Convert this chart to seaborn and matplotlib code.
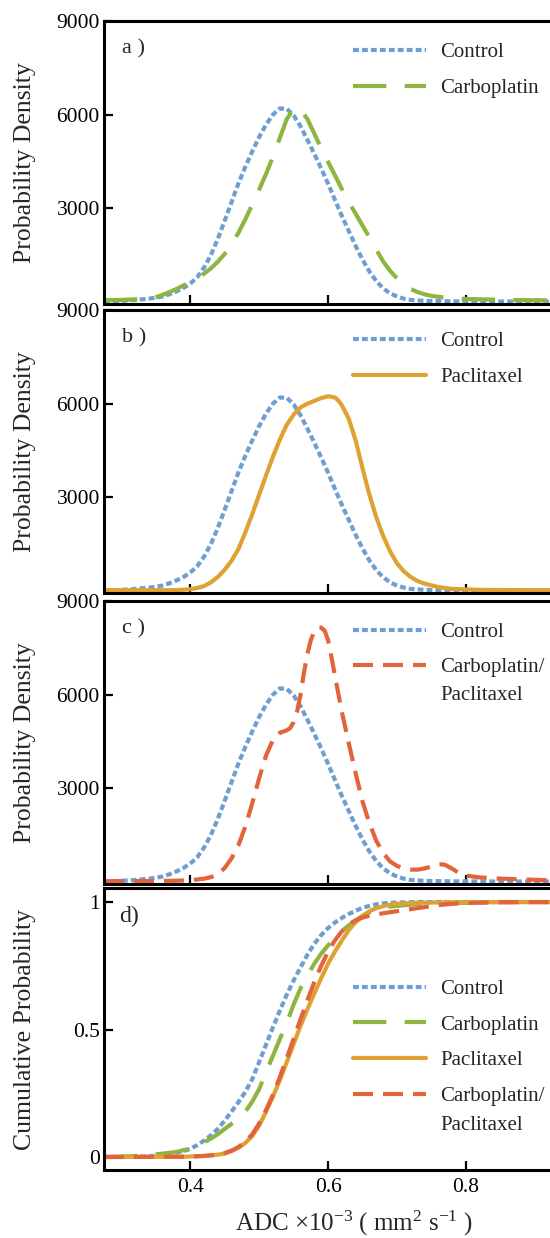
import matplotlib
matplotlib.use("Agg")
import matplotlib.pyplot as plt
import seaborn as sns

# ADC values (x1e-3 mm^2/s) and probability densities
control_x = [0.275, 0.30, 0.32, 0.34, 0.35, 0.36, 0.37, 0.38, 0.39, 0.40, 0.41, 0.42, 0.43, 0.44,
             0.45, 0.46, 0.47, 0.48, 0.49, 0.50, 0.51, 0.52, 0.53, 0.54, 0.55, 0.56, 0.57, 0.58,
             0.59, 0.60, 0.61, 0.62, 0.63, 0.64, 0.65, 0.66, 0.67, 0.68, 0.69, 0.70, 0.71, 0.72,
             0.74, 0.78, 0.85, 1.0]
control_pdf = [20, 40, 70, 110, 140, 180, 250, 340, 450, 590, 790, 1100, 1500, 2020,
               2600, 3200, 3800, 4330, 4820, 5280, 5680, 6000, 6200, 6190, 5980, 5630, 5200, 4750,
               4280, 3790, 3270, 2760, 2280, 1800, 1360, 980, 670, 440, 280, 180, 110, 70,
               40, 25, 20, 20]

carbo_x = [0.275, 0.30, 0.32, 0.34, 0.35, 0.36, 0.37, 0.38, 0.39, 0.40, 0.41, 0.42, 0.43, 0.44,
           0.45, 0.46, 0.47, 0.48, 0.49, 0.50, 0.51, 0.52, 0.53, 0.54, 0.55, 0.555, 0.56, 0.57,
           0.58, 0.59, 0.60, 0.61, 0.62, 0.63, 0.64, 0.65, 0.66, 0.67, 0.68, 0.69, 0.70, 0.71,
           0.72, 0.73, 0.74, 0.75, 0.76, 0.78, 0.80, 0.85, 0.90, 1.0]
carbo_pdf = [60, 70, 90, 120, 160, 230, 320, 420, 530, 640, 770, 910, 1080, 1290,
             1540, 1850, 2220, 2650, 3120, 3600, 4100, 4650, 5250, 5850, 6200, 6230, 6170, 5860,
             5400, 4920, 4490, 4060, 3620, 3210, 2830, 2450, 2070, 1680, 1300, 1000, 760, 560,
             420, 320, 250, 200, 170, 125, 100, 75, 60, 50]

pacli_x = [0.275, 0.38, 0.40, 0.41, 0.42, 0.43, 0.44, 0.45, 0.46, 0.47, 0.48, 0.49, 0.50, 0.51,
           0.52, 0.53, 0.54, 0.55, 0.56, 0.57, 0.58, 0.59, 0.60, 0.61, 0.615, 0.62, 0.63, 0.64,
           0.65, 0.66, 0.67, 0.68, 0.69, 0.70, 0.71, 0.72, 0.73, 0.74, 0.76, 0.78, 0.82, 0.90, 1.0]
pacli_pdf = [30, 30, 60, 100, 160, 280, 450, 680, 970, 1350, 1880, 2460, 3080, 3700,
             4300, 4850, 5320, 5650, 5880, 6000, 6090, 6180, 6240, 6200, 6100, 5950, 5520, 4820,
             3930, 3080, 2360, 1760, 1270, 890, 630, 450, 320, 240, 130, 70, 40, 30, 30]

combo_x = [0.275, 0.34, 0.38, 0.40, 0.42, 0.43, 0.44, 0.45, 0.46, 0.47, 0.48, 0.49, 0.50, 0.51,
           0.52, 0.53, 0.54, 0.545, 0.55, 0.555, 0.56, 0.565, 0.57, 0.575, 0.58, 0.585, 0.59,
           0.595, 0.60, 0.605, 0.61, 0.62, 0.63, 0.64, 0.65, 0.66, 0.67, 0.68, 0.69, 0.70, 0.71,
           0.72, 0.73, 0.74, 0.75, 0.76, 0.765, 0.77, 0.78, 0.79, 0.80, 0.82, 0.84, 0.88, 0.92, 1.0]
combo_pdf = [30, 35, 45, 60, 110, 160, 250, 450, 760, 1180, 1780, 2520, 3320, 4050,
             4550, 4780, 4860, 4930, 5120, 5450, 6000, 6700, 7300, 7750, 8030, 8150, 8150,
             8050, 7750, 7200, 6600, 5450, 4450, 3480, 2580, 1880, 1320, 930, 660, 520, 440,
             400, 400, 440, 500, 560, 570, 550, 430, 290, 210, 150, 120, 90, 60, 40]

# cumulative probabilities
control_cx = [0.275, 0.33, 0.35, 0.36, 0.37, 0.38, 0.39, 0.40, 0.41, 0.42, 0.43, 0.44, 0.45,
              0.46, 0.47, 0.48, 0.49, 0.50, 0.51, 0.52, 0.53, 0.54, 0.55, 0.56, 0.57, 0.58,
              0.59, 0.60, 0.61, 0.62, 0.63, 0.64, 0.65, 0.66, 0.67, 0.68, 0.70, 0.73, 1.0]
control_cdf = [0.0, 0.002, 0.005, 0.009, 0.013, 0.017, 0.022, 0.032, 0.046, 0.064, 0.085, 0.110,
               0.142, 0.178, 0.215, 0.255, 0.305, 0.372, 0.440, 0.508, 0.574, 0.636, 0.692,
               0.743, 0.793, 0.836, 0.870, 0.898, 0.920, 0.938, 0.953, 0.966, 0.977, 0.985,
               0.991, 0.995, 0.998, 1.0, 1.0]

carbo_cx = [0.275, 0.31, 0.34, 0.36, 0.38, 0.40, 0.41, 0.42, 0.43, 0.44, 0.45, 0.46, 0.47,
            0.48, 0.49, 0.50, 0.51, 0.52, 0.53, 0.54, 0.55, 0.56, 0.57, 0.58, 0.59, 0.60, 0.61,
            0.62, 0.63, 0.64, 0.65, 0.66, 0.67, 0.68, 0.69, 0.70, 0.73, 0.77, 0.85, 1.0]
carbo_cdf = [0.0, 0.002, 0.008, 0.013, 0.020, 0.033, 0.043, 0.057, 0.072, 0.089, 0.110, 0.130,
             0.151, 0.178, 0.217, 0.266, 0.332, 0.397, 0.462, 0.525, 0.598, 0.661, 0.711,
             0.758, 0.797, 0.830, 0.860, 0.886, 0.908, 0.928, 0.946, 0.960, 0.970, 0.977,
             0.982, 0.985, 0.992, 0.995, 1.0, 1.0]

pacli_cx = [0.275, 0.39, 0.42, 0.44, 0.45, 0.46, 0.47, 0.48, 0.49, 0.50, 0.51, 0.52, 0.53,
            0.54, 0.55, 0.56, 0.57, 0.58, 0.59, 0.60, 0.61, 0.62, 0.63, 0.64, 0.65, 0.66, 0.67,
            0.68, 0.69, 0.70, 0.72, 0.75, 0.85, 1.0]
pacli_cdf = [0.0, 0.001, 0.004, 0.009, 0.014, 0.023, 0.036, 0.055, 0.082, 0.123, 0.177, 0.237,
             0.301, 0.371, 0.443, 0.514, 0.579, 0.641, 0.701, 0.758, 0.806, 0.849, 0.890,
             0.921, 0.945, 0.964, 0.976, 0.984, 0.990, 0.993, 0.996, 0.998, 1.0, 1.0]

combo_cx = [0.275, 0.39, 0.42, 0.44, 0.45, 0.46, 0.47, 0.48, 0.49, 0.50, 0.51, 0.52, 0.53,
            0.54, 0.55, 0.56, 0.57, 0.58, 0.59, 0.60, 0.61, 0.62, 0.63, 0.64, 0.65, 0.66, 0.67,
            0.68, 0.70, 0.72, 0.74, 0.76, 0.78, 0.80, 0.85, 1.0]
combo_cdf = [0.0, 0.001, 0.004, 0.009, 0.015, 0.025, 0.039, 0.060, 0.089, 0.131, 0.184, 0.244,
             0.313, 0.387, 0.463, 0.540, 0.614, 0.686, 0.750, 0.805, 0.850, 0.885, 0.912,
             0.928, 0.939, 0.946, 0.951, 0.956, 0.964, 0.972, 0.980, 0.988, 0.993, 0.996,
             0.999, 1.0]

# styles
blue = "#6f9fd2"
green = "#8db53f"
gold = "#dfa131"
red = "#e2643a"
dot = (0, (1.4, 0.75))
longdash = (0, (8, 4.4))
dash = (0, (4.8, 2.4))
solid = "-"

sns.set_theme(style="ticks")
plt.rcParams["font.family"] = ["Liberation Serif", "DejaVu Serif"]
plt.rcParams["mathtext.fontset"] = "custom"
plt.rcParams["mathtext.rm"] = "Liberation Serif"
plt.rcParams["mathtext.it"] = "Liberation Serif:italic"

fig = plt.figure(figsize=(5.5, 12.38), dpi=100)

left = 0.189
width = 0.909
H = 1238.0
panels = [(21, 304), (310, 593), (601, 884), (888, 1170)]
axes = []
for top, bot in panels:
    ax = fig.add_axes([left, 1 - bot / H, width, (bot - top) / H])
    axes.append(ax)


def style_axis(ax):
    for s in ax.spines.values():
        s.set_linewidth(2.2)
        s.set_color("black")
    ax.tick_params(direction="in", length=6.5, width=1.6, colors="black",
                   labelsize=15.5, pad=3)
    ax.set_xlim(0.275, 1.0)
    ax.set_xticks([0.4, 0.6, 0.8])


def add_line(ax, xs, ys, color, ls, label):
    sns.lineplot(x=xs, y=ys, ax=ax, color=color, lw=3, linestyle=ls, label=label)


legend_kw = dict(loc="upper left", frameon=False, fontsize=15, handlelength=3.5,
                 handletextpad=0.7, borderpad=0, borderaxespad=0)

pairs = [
    (carbo_x, carbo_pdf, green, longdash, "Carboplatin", "a )"),
    (pacli_x, pacli_pdf, gold, solid, "Paclitaxel", "b )"),
    (combo_x, combo_pdf, red, dash, "Carboplatin/", "c )"),
]

for ax, (xs, ys, col, ls, lab, tag) in zip(axes[:3], pairs):
    add_line(ax, control_x, control_pdf, blue, dot, "Control")
    add_line(ax, xs, ys, col, ls, lab)
    style_axis(ax)
    ax.set_ylim(-60, 9000)
    ax.set_yticks([3000, 6000, 9000])
    ax.set_yticklabels(["3000", "6000", "9000"])
    ax.set_xticklabels([])
    ax.set_ylabel("Probability Density", fontsize=18.5)
    ax.yaxis.set_label_coords(-0.135, 0.5)
    ax.text(0.036, 0.9, tag, transform=ax.transAxes, fontsize=16, va="center")
    sp = 0.75 if tag == "c )" else 0.82
    ax.legend(bbox_to_anchor=(0.498, 0.925), labelspacing=sp, **legend_kw)

# second line of the combined-treatment legend label
axes[2].text(0.672, 0.665, "Paclitaxel", transform=axes[2].transAxes,
             fontsize=15, va="center")

ax = axes[3]
add_line(ax, control_cx, control_cdf, blue, dot, "Control")
add_line(ax, carbo_cx, carbo_cdf, green, longdash, "Carboplatin")
add_line(ax, pacli_cx, pacli_cdf, gold, solid, "Paclitaxel")
add_line(ax, combo_cx, combo_cdf, red, dash, "Carboplatin/")
style_axis(ax)
ax.set_ylim(-0.051, 1.055)
ax.set_yticks([0, 0.5, 1])
ax.set_yticklabels(["0", "0.5", "1"])
ax.set_xticklabels(["0.4", "0.6", "0.8"])
ax.tick_params(axis="x", pad=6)
ax.set_ylabel("Cumulative Probability", fontsize=18.5)
ax.yaxis.set_label_coords(-0.135, 0.5)
ax.set_xlabel(r"ADC $\times$10$^{-3}$ ( mm$^{2}$ s$^{-1}$ )", fontsize=18, labelpad=8)
ax.text(0.03, 0.9, "d)", transform=ax.transAxes, fontsize=17, va="center")
ax.legend(bbox_to_anchor=(0.498, 0.676), labelspacing=0.77, **legend_kw)
ax.text(0.672, 0.157, "Paclitaxel", transform=ax.transAxes, fontsize=15, va="center")

fig.savefig("out.png", dpi=100)
